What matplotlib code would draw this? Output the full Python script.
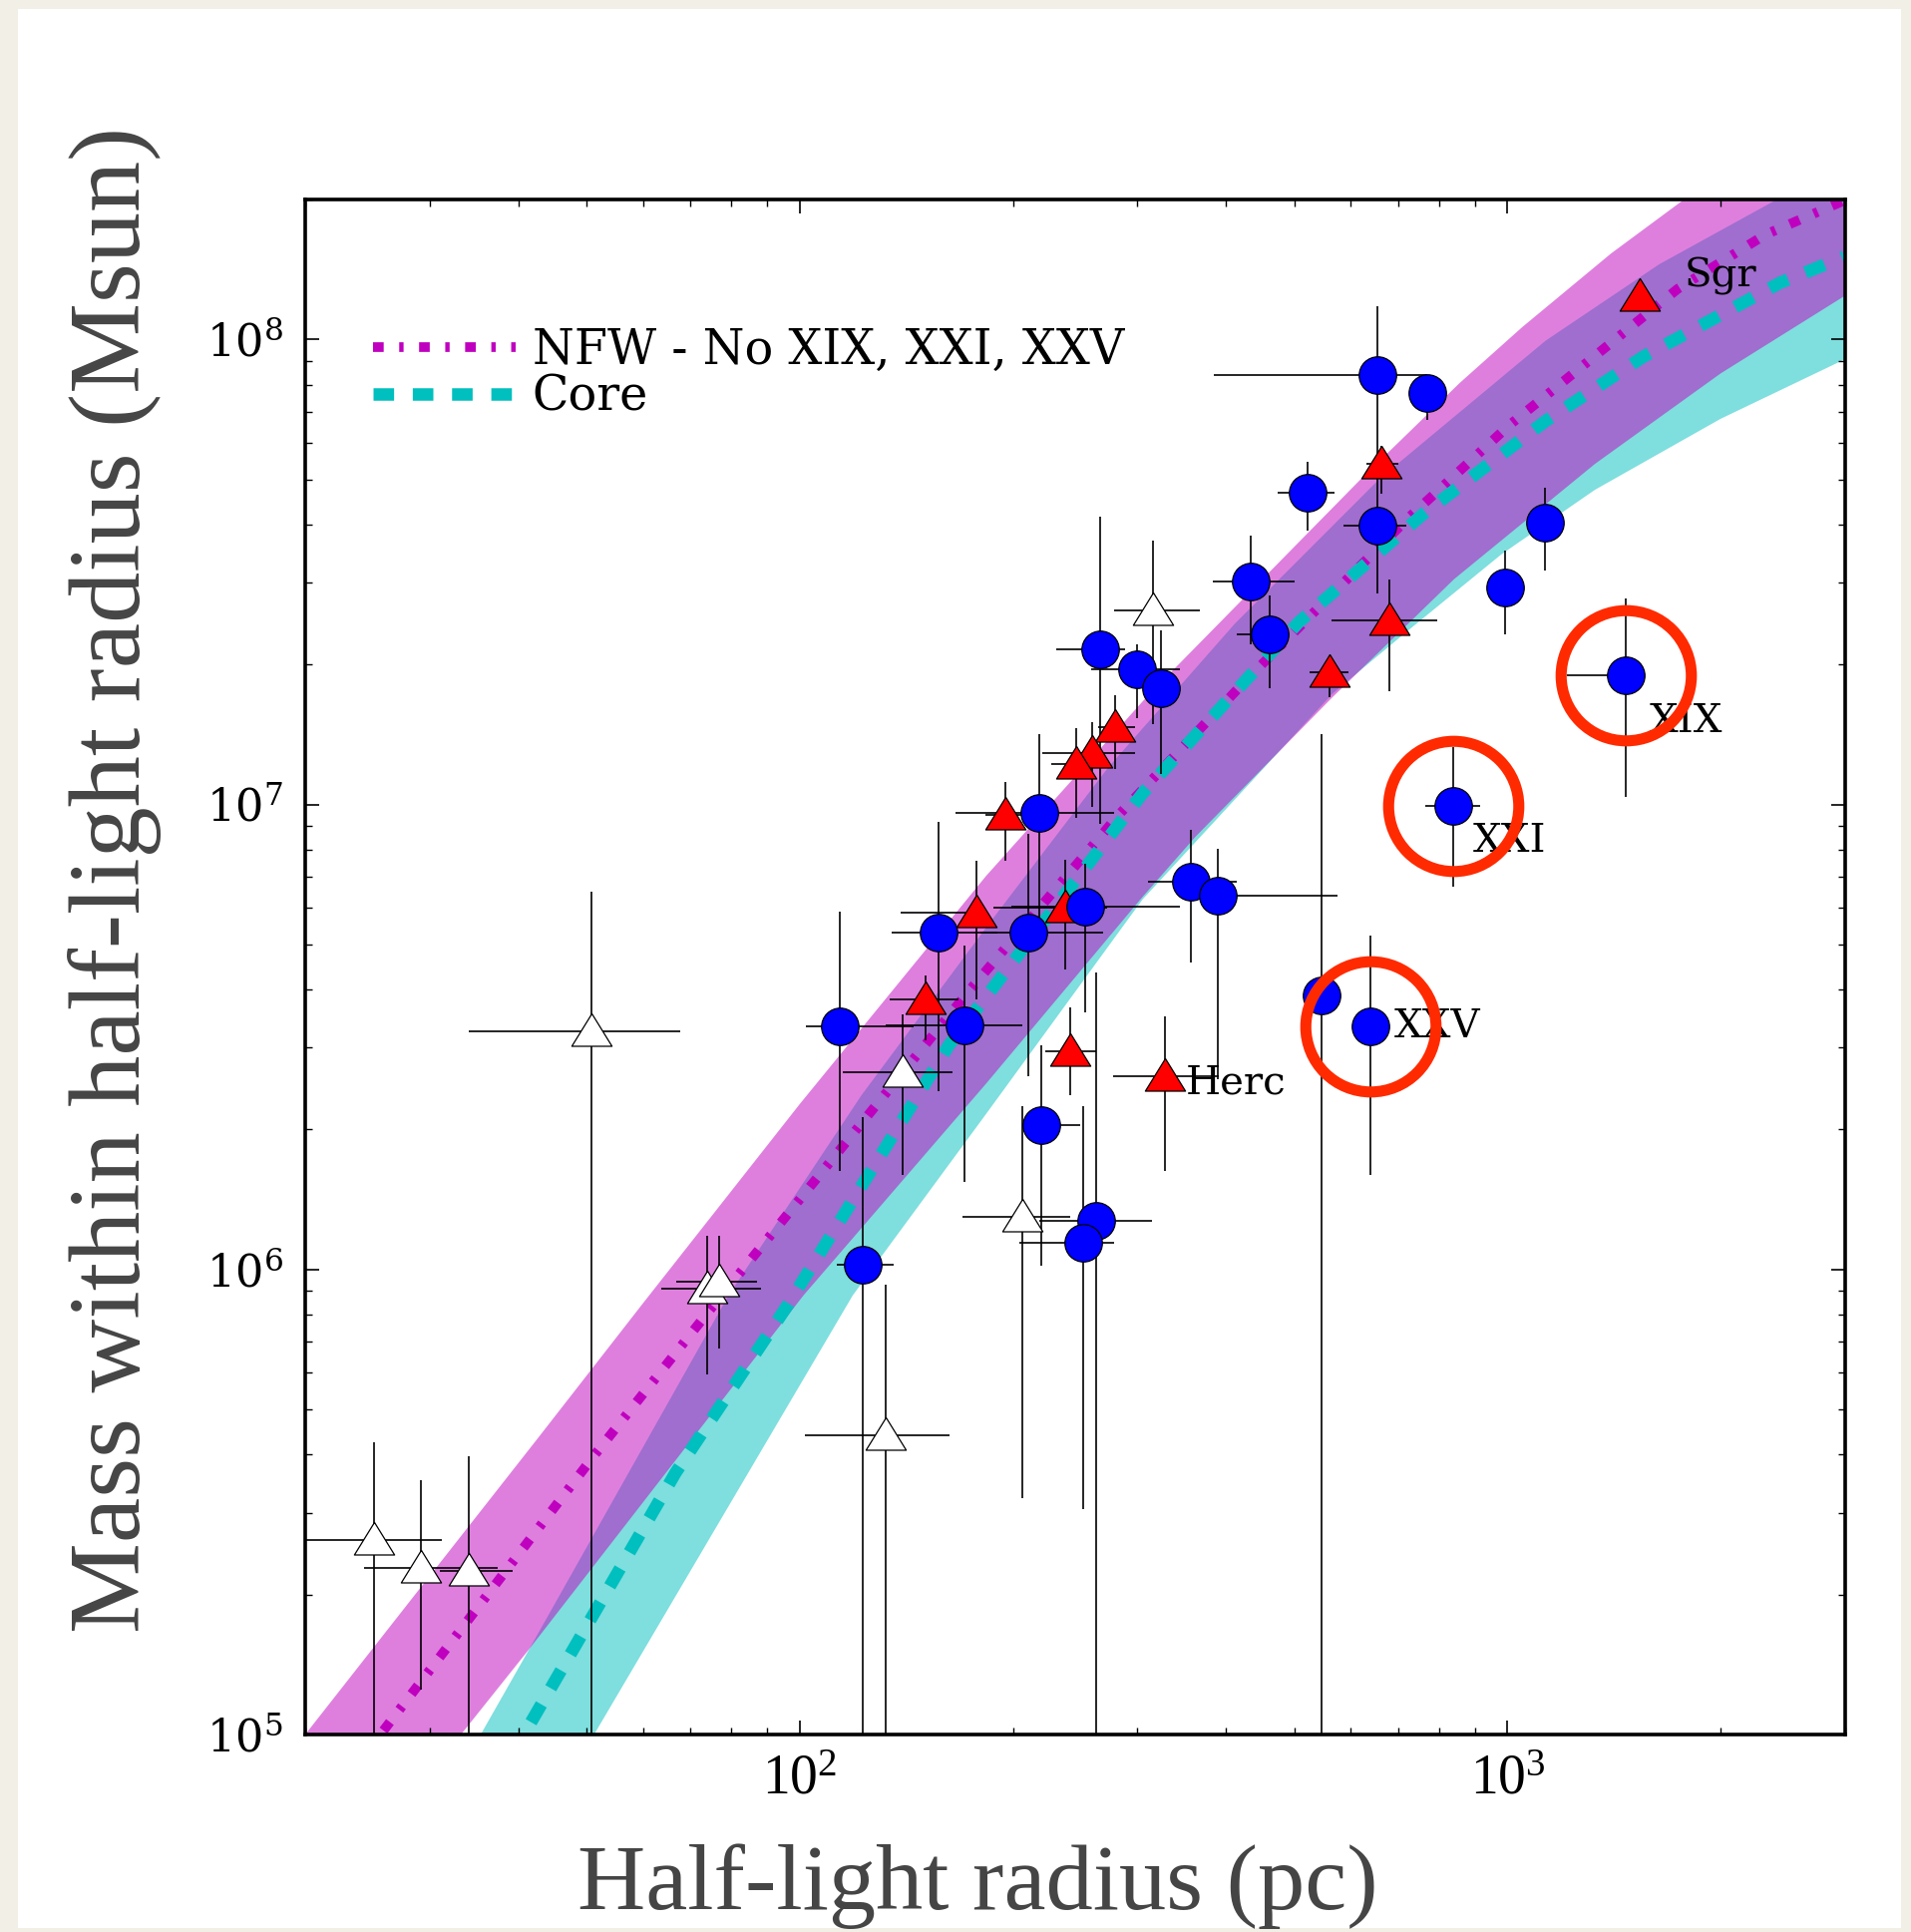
import numpy as np
import matplotlib.pyplot as plt
from matplotlib.patches import Rectangle

plt.rcParams['font.family'] = ['Liberation Serif', 'DejaVu Serif']
plt.rcParams['mathtext.fontset'] = 'custom'
plt.rcParams['mathtext.rm'] = 'Liberation Serif'
plt.rcParams['mathtext.it'] = 'Liberation Serif:italic'

# blue circles: radius (pc) with x-range, mass (Msun) with y-range
blue_r   = [654, 770, 522, 654, 1128, 992, 434, 461, 266, 300, 324, 218, 210, 157,
            253, 113.7, 171, 219.5, 122.7, 262, 251.6, 356.7, 389.6, 546, 641, 838, 1470]
blue_rlo = [385, 770, 474, 587, 1128, 992, 383, 415, 230, 258, 307, 166, 180, 135,
            199, 102, 132.4, 206, 112.8, 218, 204, 310, 368, 522, 608, 764, 1212]
blue_rhi = [770, 770, 570, 720, 1128, 992, 501, 488, 288, 344, 340, 278, 268, 190,
            344, 144.6, 206, 248.6, 135.6, 314, 278, 415, 575, 572, 680, 915, 1490]
blue_m   = [8.38e7, 7.69e7, 4.69e7, 3.98e7, 4.03e7, 2.93e7, 3.02e7, 2.32e7, 2.16e7,
            1.95e7, 1.78e7, 9.58e6, 5.30e6, 5.30e6, 6.02e6, 3.33e6, 3.35e6, 2.04e6,
            1.025e6, 1.27e6, 1.14e6, 6.81e6, 6.36e6, 3.88e6, 3.33e6, 9.94e6, 1.90e7]
blue_mlo = [5.67e7, 6.72e7, 3.88e7, 2.84e7, 3.19e7, 2.32e7, 2.21e7, 1.78e7, 9.07e6,
            1.53e7, 1.165e7, 5.23e6, 2.61e6, 2.42e6, 3.58e6, 1.63e6, 1.54e6, 1.02e6,
            1e4, 1e4, 3.06e5, 4.58e6, 2.56e6, 1e4, 1.60e6, 6.64e6, 1.04e7]
blue_mhi = [1.18e8, 8.17e7, 5.46e7, 5.67e7, 4.81e7, 3.52e7, 3.79e7, 2.82e7, 4.15e7,
            2.21e7, 2.37e7, 1.42e7, 8.64e6, 9.18e6, 7.46e6, 5.88e6, 4.98e6, 3.04e6,
            2.13e6, 4.36e6, 2.24e6, 8.80e6, 8.03e6, 1.42e7, 5.23e6, 1.33e7, 2.77e7]

# red triangles
red_r   = [1536, 664, 680, 561, 279, 259, 245.6, 195.4, 177.5, 237, 150.6, 240.7, 328]
red_rlo = [1536, 631, 564, 526, 264, 220, 226.7, 183, 139, 188, 134, 222, 277]
red_rhi = [1536, 700, 796, 596, 298, 298, 262, 206.7, 180, 272, 167.8, 262, 391]
red_m   = [1.24e8, 5.40e7, 2.49e7, 1.92e7, 1.47e7, 1.29e7, 1.22e7, 9.5e6, 5.85e6,
           6.0e6, 3.80e6, 2.94e6, 2.60e6]
red_mlo = [1.16e8, 4.66e7, 1.75e7, 1.70e7, 1.19e7, 9.88e6, 9.35e6, 7.55e6, 3.81e6,
           4.41e6, 3.11e6, 2.37e6, 1.63e6]
red_mhi = [1.33e8, 5.91e7, 3.04e7, 2.00e7, 1.72e7, 1.50e7, 1.46e7, 1.116e7, 7.55e6,
           7.60e6, 4.28e6, 3.67e6, 3.50e6]

# open triangles
open_r   = [316, 50.8, 139.5, 206, 132.4, 74.0, 77.0, 25.06, 29.1, 34.0]
open_rlo = [278, 34.0, 115, 169.8, 101.6, 63.8, 66.9, 19.0, 24.2, 31.0]
open_rhi = [367, 67.8, 164.4, 240.7, 163, 88, 86.9, 31.2, 37.4, 39.3]
open_m   = [2.61e7, 3.25e6, 2.66e6, 1.30e6, 4.40e5, 9.1e5, 9.4e5, 2.62e5, 2.28e5, 2.25e5]
open_mlo = [1.49e7, 1e4, 1.60e6, 3.23e5, 1e4, 5.95e5, 6.76e5, 1e4, 1.25e5, 1e4]
open_mhi = [3.69e7, 6.48e6, 3.54e6, 2.24e6, 9.29e5, 1.18e6, 1.18e6, 4.25e5, 3.52e5, 3.96e5]

# named galaxies
names   = ['Sgr', 'XIX', 'XXI', 'XXV', 'Herc']
names_r = [1536, 1470, 838, 641, 328]
names_m = [1.24e8, 1.90e7, 9.94e6, 3.33e6, 2.60e6]
# excluded from NFW fit (ringed)
ring_r = [1470, 838, 641]
ring_m = [1.90e7, 9.94e6, 3.33e6]

# NFW band edges
nfw_up_r = [20.0, 42.6, 60.1, 100, 183.3, 308.7, 623, 855, 1049, 1400, 1768, 3026]
nfw_up_m = [1.0e5, 4.33e5, 8.48e5, 2.27e6, 7.02e6, 1.70e7, 5.04e7, 8.05e7, 1.063e8,
            1.53e8, 1.99e8, 3.72e8]
nfw_lo_r = [33.2, 41.5, 101.2, 183.3, 305, 362.4, 565.6, 840, 1329, 2000, 3026]
nfw_lo_m = [1.0e5, 1.53e5, 8.80e5, 2.51e6, 6.33e6, 8.53e6, 1.70e7, 3.05e7, 5.40e7,
            8.45e7, 1.253e8]
# core band edges
core_up_r = [35.4, 41.5, 79.3, 122.2, 185.5, 272.6, 412, 659, 1132, 1638, 2388, 3026]
core_up_m = [1.0e5, 1.53e5, 8.80e5, 2.37e6, 5.57e6, 1.20e7, 2.45e7, 5.01e7, 9.94e7,
             1.451e8, 1.99e8, 2.45e8]
core_lo_r = [51.2, 118.8, 183.3, 305, 565.6, 717, 980, 1329, 2000, 3026]
core_lo_m = [1.0e5, 8.80e5, 2.16e6, 6.25e6, 1.73e7, 2.34e7, 3.45e7, 4.75e7, 6.75e7, 9.13e7]

# best-fit curves
nfw_r = [25.8, 51.2, 74.3, 174, 282.6, 427, 722.7, 1008, 1267, 1740, 2313, 2990]
nfw_m = [1.02e5, 3.98e5, 8.12e5, 4.00e6, 9.52e6, 1.85e7, 4.12e7, 6.56e7, 8.69e7,
         1.285e8, 1.68e8, 1.99e8]
core_r = [41.7, 66.7, 96.1, 162.5, 305, 507.6, 758, 1132, 1555, 2427, 2990]
core_m = [1.063e5, 3.65e5, 8.38e5, 3.04e6, 1.057e7, 2.47e7, 4.20e7, 6.68e7, 9.18e7,
          1.324e8, 1.506e8]

W, H = 1916, 1937
fig = plt.figure(figsize=(W / 100, H / 100), dpi=100, facecolor='#f2efe7')
fig.patches.append(Rectangle((18 / W, 1 - 1933 / H), (1906 - 18) / W, (1933 - 9) / H,
                             transform=fig.transFigure, facecolor='white',
                             edgecolor='none', zorder=-5))
ax = fig.add_axes([306 / W, 1 - 1739 / H, 1544 / W, 1539 / H])
ax.set_xscale('log')
ax.set_yscale('log')

ax.fill(core_up_r + core_lo_r[::-1], core_up_m + core_lo_m[::-1],
        color='c', alpha=0.5, lw=0, zorder=1)
ax.fill(nfw_up_r + nfw_lo_r[::-1], nfw_up_m + nfw_lo_m[::-1],
        color='m', alpha=0.5, lw=0, zorder=1)

ax.plot(nfw_r, nfw_m, color='m', lw=7, dashes=(1.1, 1.6, 0.45, 1.6),
        label='NFW - No XIX, XXI, XXV', zorder=2)
ax.plot(core_r, core_m, color='c', lw=9, dashes=(1.65, 1.5),
        label='Core', zorder=2)

tri = [(0, 0.9), (-1, -0.72), (1, -0.72), (0, 0.9)]


def points(r, rlo, rhi, m, mlo, mhi, **kw):
    r, rlo, rhi = np.array(r), np.array(rlo), np.array(rhi)
    m, mlo, mhi = np.array(m), np.array(mlo), np.array(mhi)
    ax.errorbar(r, m, xerr=[r - rlo, rhi - r], yerr=[m - mlo, mhi - m], fmt='none',
                ecolor='k', elinewidth=1.2, capsize=0, zorder=3)
    ax.plot(r, m, ls='none', mec='k', mew=0.9, zorder=4, **kw)


points(open_r, open_rlo, open_rhi, open_m, open_mlo, open_mhi,
       marker=tri, ms=29, mfc='white')
points(red_r, red_rlo, red_rhi, red_m, red_mlo, red_mhi,
       marker=tri, ms=29, mfc='red')
points(blue_r, blue_rlo, blue_rhi, blue_m, blue_mlo, blue_mhi,
       marker='o', ms=27, mfc='blue')

offsets = {'Sgr': (32, 14), 'XIX': (17, -34), 'XXI': (14, -26),
           'XXV': (17, 0), 'Herc': (15, -5)}
for n, r, m in zip(names, names_r, names_m):
    ax.annotate(n, (r, m), xytext=offsets[n], textcoords='offset points',
                ha='left', va='center', fontsize=29, family='DejaVu Serif', zorder=5)

ax.plot(ring_r, ring_m, ls='none', marker='o', ms=94, mfc='none',
        mec='#ff2a00', mew=8, zorder=6)

ax.set_xlim(20, 3000)
ax.set_ylim(1e5, 2e8)

ax.tick_params(which='both', direction='in', top=True, right=True)
ax.tick_params(which='major', length=10, width=1.2, pad=16)
ax.tick_params(which='minor', length=5, width=1.0)
ax.tick_params(axis='x', which='major', labelsize=40, pad=14)
ax.tick_params(axis='y', which='major', labelsize=32, labelfontfamily='DejaVu Serif')
for s in ax.spines.values():
    s.set_linewidth(2.6)

ax.set_xlabel('Half-light radius (pc)', fontsize=68, color='#454545')
ax.xaxis.set_label_coords(0.4365, -0.071)
ax.set_ylabel('Mass within half-light radius (Msun)', fontsize=73.5, color='#454545')
ax.yaxis.set_label_coords(-0.0933, 0.557)

ax.legend(loc='upper left', bbox_to_anchor=(0.044, 0.917), frameon=False,
          prop={'family': 'DejaVu Serif', 'size': 34.4}, handlelength=3.0,
          handletextpad=0.34, labelspacing=0.0, borderaxespad=0, borderpad=0)

fig.savefig('out.png', dpi=100, facecolor=fig.get_facecolor())
